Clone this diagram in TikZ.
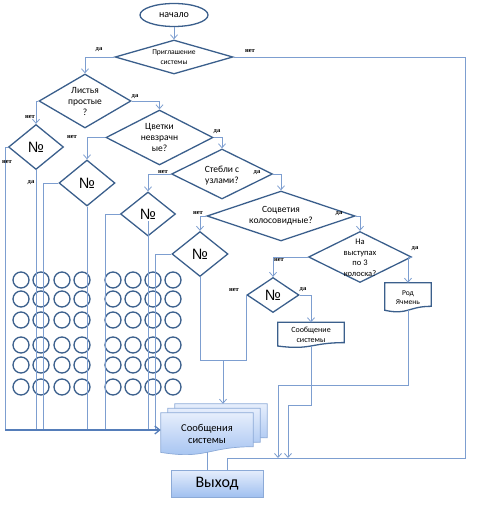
\documentclass[tikz,border=0pt]{standalone}
\usepackage{fontspec}
\setmainfont{Carlito}
\newfontfamily\labfont{Liberation Serif}
\newfontfamily\numfont{Liberation Sans}
\usetikzlibrary{shapes.geometric,arrows.meta,calc}
\definecolor{dblue}{RGB}{59,95,140}
\definecolor{lblue}{RGB}{125,158,208}
\definecolor{mblue}{RGB}{85,125,185}
\definecolor{sblue}{RGB}{140,170,215}
\definecolor{stop}{RGB}{230,238,252}
\definecolor{sbot}{RGB}{160,192,240}
\pgfdeclarelayer{bg}
\pgfsetlayers{bg,main}
\newcommand\mydocpath[1]{(#1.north west) -- (#1.north east) -- ($(#1.north east)!0.80!(#1.south east)$) .. controls ($(#1.north)!0.80!(#1.south)$) and ($(#1.north)!1.107!(#1.south)$) .. ($(#1.north west)!0.934!(#1.south west)$) -- cycle}
\begin{document}
\begin{tikzpicture}[x=1pt,y=-1pt,
  dia/.style={shape=diamond, draw=dblue, line width=1.3pt, inner sep=0pt},
  dt/.style={align=center, inner sep=0pt, font=\fontsize{9.5}{11}\selectfont},
  numtxt/.style={inner sep=0pt, font=\numfont\fontsize{15}{15}\selectfont},
  con/.style={draw=lblue, line width=0.8pt},
  arr/.style={con, -{Straight Barb[length=4pt,width=7pt,line width=0.8pt]}},
  thickarr/.style={draw=mblue, line width=1.3pt, -{Straight Barb[length=5pt,width=8pt,line width=1.3pt]}},
  lab/.style={inner sep=0pt, font=\labfont\bfseries\fontsize{6.5}{7}\selectfont},
  circ/.style={draw=dblue, line width=1.3pt},
  docbox/.style={inner sep=0pt, align=center},
  docline/.style={draw=dblue, line width=1.3pt},
  stackline/.style={draw=sblue, line width=0.7pt, top color=stop, bottom color=sbot},
]
\useasboundingbox (0,0) rectangle (480,516);

% circles grid
\foreach \x in {21,41,62,82,113,133,153,173}
  \foreach \y in {280,299,320,345,365,387}
    \draw[circ] (\x,\y) circle[radius=8pt];

% start
\node[ellipse, draw=dblue, line width=1.3pt, minimum width=68pt, minimum height=23pt, inner sep=0pt, font=\fontsize{10}{12}\selectfont] (start) at (174,15) {начало};

% diamonds
\node[dia, minimum width=118pt, minimum height=34pt, label={[dt,font=\fontsize{7.5}{10}\selectfont]center:{Приглашение\\системы}}] (d1) at (174,57) {};
\node[dia, minimum width=92pt, minimum height=54pt, label={[dt]center:{Листья\\простые\\?}}] (d2) at (85,101) {};
\node[dia, minimum width=55pt, minimum height=45pt, label={[numtxt]center:№}] (d3) at (36,147) {};
\node[dia, minimum width=107pt, minimum height=55pt, label={[dt]center:{Цветки\\невзрачн\\ые?}}] (d4) at (159.5,137.5) {};
\node[dia, minimum width=56pt, minimum height=46pt, label={[numtxt]center:№}] (d11) at (87,183) {};
\node[dia, minimum width=101pt, minimum height=50pt, label={[dt,yshift=-2pt]center:{Стебли с\\узлами?}}] (d5) at (222,174) {};
\node[dia, minimum width=55pt, minimum height=44pt, label={[numtxt]center:№}] (d10) at (148,214) {};
\node[dia, minimum width=148pt, minimum height=50pt, label={[dt]center:{Соцветия\\колосовидные?}}] (d6) at (281,216) {};
\node[dia, minimum width=56pt, minimum height=45pt, label={[numtxt]center:№}] (d9) at (200,254) {};
\node[dia, minimum width=103pt, minimum height=51pt, label={[dt,font=\fontsize{8.5}{10.5}\selectfont,yshift=-1pt]center:{На\\выступах\\по 3\\колоска?}}] (d7) at (360,257) {};
\node[dia, minimum width=52pt, minimum height=35pt, label={[numtxt]center:№}] (d8) at (273,295) {};

% documents
\node[docbox, minimum width=46pt, minimum height=29pt, font=\fontsize{7.5}{9.5}\selectfont] (rod) at (408,297.5) {Род\\Ячмень};
\node[docbox, minimum width=66pt, minimum height=25pt, font=\fontsize{8}{10}\selectfont] (soob) at (311,335) {Сообщение\\системы};
\draw[docline] \mydocpath{rod};
\draw[docline] \mydocpath{soob};

% stack
\node[docbox, minimum width=92pt, minimum height=42pt] (stA) at (221,425) {};
\node[docbox, minimum width=92pt, minimum height=42pt] (stB) at (214,429.5) {};
\node[docbox, minimum width=92pt, minimum height=42pt, font=\fontsize{10.5}{12}\selectfont] (st) at (207,434) {Сообщения\\системы};
\begin{pgfonlayer}{bg}
\draw[stackline] \mydocpath{stA};
\draw[stackline] \mydocpath{stB};
\draw[stackline] \mydocpath{st};
\end{pgfonlayer}

% exit
\node[draw=sblue, line width=0.7pt, top color=stop, bottom color=sbot, minimum width=92pt, minimum height=27pt, inner sep=0pt, font=\fontsize{16}{18}\selectfont] (vyh) at (217,483.5) {Выход};

% helper coordinates
\coordinate (busR) at (465,458);
\coordinate (busL) at (227,458);
\coordinate (lb) at (5,430);
\coordinate (c11) at (43,430);
\coordinate (c10) at (105,430);
\coordinate (c9) at (155,430);
\coordinate (j89) at (223,360);
\coordinate (r1) at (278,385);
\coordinate (s1) at (288,405);

% connectors
\draw[arr] (start.south) -- (d1.north);
\draw[arr] (d1.west) -| (d2.north);
\draw[con] (d1.east) -| (busR) -- (busL) -- (busL |- vyh.north);
\draw[arr] (d2.west) -| (d3.north);
\draw[arr] (d2.east) -| (d4.north);
\draw[con] (d3.west) -| (lb);
\draw[con] (d3.south) -- (d3.south |- lb);
\draw[arr] (d4.west) -| (d11.north);
\draw[arr] (d4.east) -| (d5.north);
\draw[con] (d11.west) -| (c11);
\draw[con] (d11.south) -- (d11.south |- lb);
\draw[arr] (d5.west) -| (d10.north);
\draw[arr] (d5.east) -| (d6.north);
\draw[con] (d10.west) -| (c10);
\draw[con] ([yshift=-7pt]d10.center) -- (d10.south |- lb);
\draw[arr] (d6.west) -| (d9.north);
\draw[arr] (d6.east) -| (d7.north);
\draw[con] (d9.west) -| (c9);
\draw[con] (d9.south) |- (j89);
\draw[con] (d8.west) |- (j89);
\draw[arr] (j89) -- (j89 |- stA.north);
\draw[arr] (d7.west) -| (d8.north);
\draw[arr] (d7.east) -| (rod.north);
\draw[arr] (d8.east) -| (soob.north);
\draw[arr] ([yshift=2pt]rod.south) |- (r1) -- (r1 |- busL);
\draw[arr] ([yshift=2pt]soob.south) |- (s1) -- (s1 |- busL);
\draw[con] ([yshift=3pt]st.south) -- (st.south |- vyh.north);
\draw[thickarr] (lb) -- (lb -| st.west);

% labels
\node[lab] (l1y) at (99,50) {да};
\node[lab] (l1n) at (250,51) {нет};
\node[lab] (l2n) at (30,117) {нет};
\node[lab] (l2y) at (135,97) {да};
\node[lab] (l3n) at (7,162) {нет};
\node[lab] (l3y) at (31,183) {да};
\node[lab] (l4n) at (72,137) {нет};
\node[lab] (l4y) at (217,132) {да};
\node[lab] (l5n) at (163,172) {нет};
\node[lab] (l5y) at (257,173) {да};
\node[lab] (l6n) at (198,213) {нет};
\node[lab] (l6y) at (339,214) {да};
\node[lab] (l7n) at (279,260) {нет};
\node[lab] (l7y) at (415,249) {да};
\node[lab] (l8n) at (234,290) {нет};
\node[lab] (l8y) at (303,290) {да};
\end{tikzpicture}
\end{document}
